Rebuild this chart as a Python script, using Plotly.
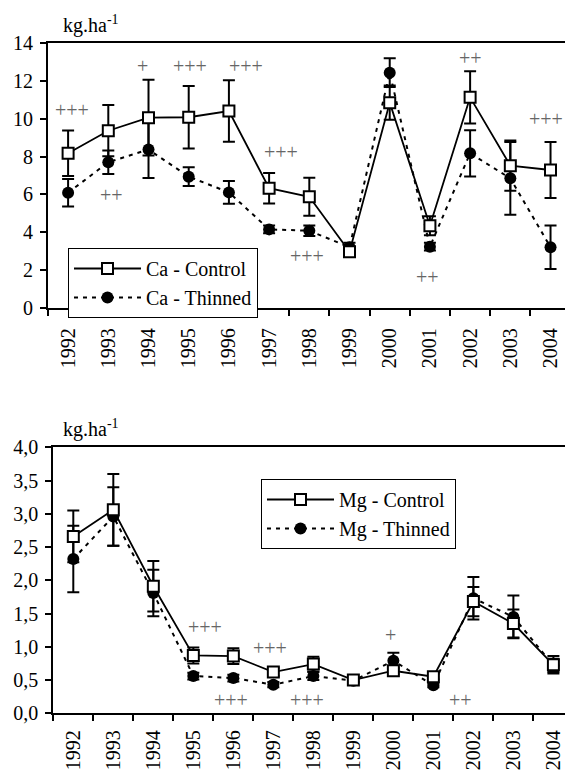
import plotly.graph_objects as go

years = ["1992", "1993", "1994", "1995", "1996", "1997", "1998",
         "1999", "2000", "2001", "2002", "2003", "2004"]

# Ca (kg/ha)
ca_control = [8.17, 9.36, 10.05, 10.07, 10.40, 6.33, 5.88, 2.98, 10.84, 4.35, 11.12, 7.52, 7.29]
ca_control_err = [1.2, 1.35, 2.0, 1.65, 1.62, 0.8, 1.0, 0.15, 0.9, 0.5, 1.38, 1.32, 1.47]
ca_thinned = [6.09, 7.70, 8.37, 6.94, 6.11, 4.16, 4.09, 3.22, 12.42, 3.25, 8.17, 6.85, 3.22]
ca_thinned_err = [0.73, 0.62, 1.5, 0.5, 0.6, 0.2, 0.28, 0.24, 0.76, 0.2, 1.22, 1.92, 1.15]

# Mg (kg/ha)
mg_control = [2.66, 3.06, 1.91, 0.87, 0.86, 0.62, 0.74, 0.50, 0.64, 0.55, 1.68, 1.35, 0.73]
mg_control_err = [0.39, 0.54, 0.38, 0.12, 0.12, 0.06, 0.11, 0.03, 0.05, 0.04, 0.22, 0.21, 0.13]
mg_thinned = [2.32, 2.96, 1.81, 0.56, 0.53, 0.43, 0.56, 0.49, 0.79, 0.42, 1.73, 1.45, 0.72]
mg_thinned_err = [0.5, 0.44, 0.35, 0.05, 0.05, 0.04, 0.06, 0.03, 0.12, 0.03, 0.32, 0.32, 0.1]

# significance labels
ca_sig_text = ["+++", "++", "+", "+++", "+++", "+++", "+++", "++", "++", "+++"]
ca_sig_x = [0.09, 1.085, 1.856, 3.03, 4.42, 5.30, 5.94, 8.93, 10.01, 11.88]
ca_sig_y = [10.45, 5.97, 12.79, 12.79, 12.79, 8.22, 2.77, 1.63, 13.21, 9.96]

mg_sig_text = ["+++", "+++", "+++", "+++", "+", "++"]
mg_sig_x = [3.29, 3.94, 4.92, 5.85, 7.93, 9.67]
mg_sig_y = [1.30, 0.20, 0.98, 0.20, 1.18, 0.20]

ca_yticks = [0, 2, 4, 6, 8, 10, 12, 14]
mg_yticks = [0, 0.5, 1.0, 1.5, 2.0, 2.5, 3.0, 3.5, 4.0]
mg_yticklabels = ["0,0", "0,5", "1,0", "1,5", "2,0", "2,5", "3,0", "3,5", "4,0"]

FONT = "Liberation Serif"
FS = 20
W, H = 565, 772

fig = go.Figure()

def add_pair(ctrl, ctrl_err, thin, thin_err, name, xa, ya, leg):
    fig.add_trace(go.Scatter(
        x=years, y=thin, name=name + " - Thinned", xaxis=xa, yaxis=ya, legend=leg,
        mode="lines+markers", legendrank=2,
        line=dict(color="black", width=2, dash="4px,5px"),
        marker=dict(symbol="circle", size=12, color="black"),
        error_y=dict(type="data", array=thin_err, visible=True, color="black",
                     thickness=2, width=6),
    ))
    fig.add_trace(go.Scatter(
        x=years, y=ctrl, name=name + " - Control", xaxis=xa, yaxis=ya, legend=leg,
        mode="lines+markers", legendrank=1,
        line=dict(color="black", width=1.8),
        marker=dict(symbol="square", size=11, color="white",
                    line=dict(color="black", width=2)),
        error_y=dict(type="data", array=ctrl_err, visible=True, color="black",
                     thickness=2, width=6),
    ))

add_pair(ca_control, ca_control_err, ca_thinned, ca_thinned_err, "Ca", "x", "y", "legend")
add_pair(mg_control, mg_control_err, mg_thinned, mg_thinned_err, "Mg", "x2", "y2", "legend2")

xcommon = dict(type="category", tickson="boundaries", ticks="outside", ticklen=6,
               tickwidth=1.5, tickcolor="black", showline=True, linewidth=2,
               linecolor="black", mirror=True, showgrid=False, zeroline=False,
               tickangle=-90, automargin=False,
               tickfont=dict(family=FONT, size=FS, color="black"))
ycommon = dict(ticks="outside", ticklen=6, tickwidth=1.5, tickcolor="black",
               showline=True, linewidth=2, linecolor="black", mirror=False,
               showgrid=False, zeroline=False, ticklabelstandoff=3, automargin=False,
               tickfont=dict(family=FONT, size=FS, color="black"))

fig.update_layout(
    width=W, height=H, autosize=False,
    margin=dict(l=0, r=0, t=0, b=0, pad=0, autoexpand=False),
    paper_bgcolor="white", plot_bgcolor="white",
    font=dict(family=FONT, size=FS, color="black"),
    showlegend=True,
    xaxis=dict(domain=[48 / W, 1], range=[-0.5, 12.36], anchor="y",
               ticklabelstandoff=10, **xcommon),
    yaxis=dict(domain=[1 - 308.3 / H, 1 - 42.7 / H], range=[0, 14],
               tickvals=ca_yticks, anchor="x", **ycommon),
    xaxis2=dict(domain=[53.3 / W, 1], range=[-0.5, 12.29], anchor="y2",
                ticklabelstandoff=7, **xcommon),
    yaxis2=dict(domain=[1 - 713.3 / H, 1 - 447.3 / H], range=[0, 4],
                tickvals=mg_yticks, ticktext=mg_yticklabels, anchor="x2", **ycommon),
    legend=dict(x=68 / W, y=1 - 248 / H, xanchor="left", yanchor="top",
                bgcolor="white", bordercolor="black", borderwidth=1,
                font=dict(family=FONT, size=FS, color="black"), itemwidth=67,
                tracegroupgap=0),
    legend2=dict(x=261 / W, y=1 - 479 / H, xanchor="left", yanchor="top",
                 bgcolor="white", bordercolor="black", borderwidth=1,
                 font=dict(family=FONT, size=FS, color="black"), itemwidth=67,
                 tracegroupgap=0),
)

annotations = []
for t, xv, yv in zip(ca_sig_text, ca_sig_x, ca_sig_y):
    annotations.append(dict(x=xv, y=yv, xref="x", yref="y", text=t, showarrow=False,
                            font=dict(family=FONT, size=FS, color="#666666")))
for t, xv, yv in zip(mg_sig_text, mg_sig_x, mg_sig_y):
    annotations.append(dict(x=xv, y=yv, xref="x2", yref="y2", text=t, showarrow=False,
                            font=dict(family=FONT, size=FS, color="#666666")))
annotations.append(dict(x=61 / W, y=1 - 39 / H, xref="paper", yref="paper",
                        xanchor="left", yanchor="bottom", text="kg.ha<sup>-1</sup>",
                        showarrow=False, font=dict(family=FONT, size=FS, color="black")))
annotations.append(dict(x=61 / W, y=1 - 443 / H, xref="paper", yref="paper",
                        xanchor="left", yanchor="bottom", text="kg.ha<sup>-1</sup>",
                        showarrow=False, font=dict(family=FONT, size=FS, color="black")))
fig.update_layout(annotations=annotations)

fig.write_html("out.html")
